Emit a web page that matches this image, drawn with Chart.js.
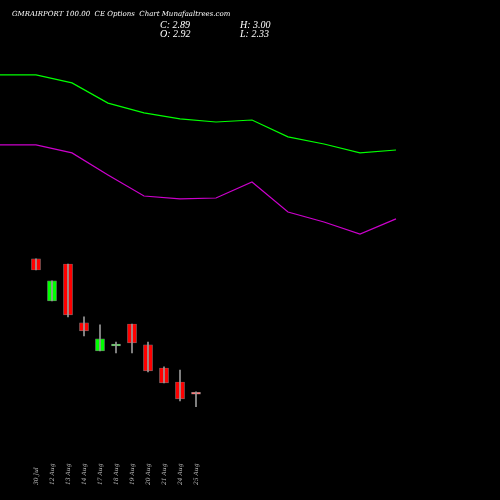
<!DOCTYPE html><html><head><style>html,body{margin:0;background:#000}#c{display:block}</style>
<script src="https://cdn.jsdelivr.net/npm/chart.js@4"></script></head><body>
<div style="width:500px;height:500px"><canvas id="c" width="500" height="500"></canvas></div>
<script>
const dates=["30 Jul","12 Aug","13 Aug","14 Aug","17 Aug","18 Aug","19 Aug","20 Aug","21 Aug","24 Aug","25 Aug"];
const opens=[8.98,7.09,8.75,6.10,4.84,5.06,6.05,5.11,4.07,3.44,2.92];
const closes=[8.48,7.99,6.46,5.74,5.38,5.08,5.20,3.94,3.40,2.68,2.89];
const highs=[8.98,7.99,8.75,6.37,6.01,5.24,6.05,5.24,4.12,3.98,3.00];
const lows=[8.48,7.09,6.37,5.51,4.84,4.75,4.75,3.89,3.40,2.59,2.33];
const lineX=[-2.25,0,2.25,4.5,6.75,9,11.25,13.5,15.75,18,20.25,22.5];
const upper=[17.26,17.26,16.90,15.99,15.55,15.28,15.14,15.23,14.47,14.15,13.75,13.88];
const lower=[14.11,14.11,13.75,12.76,11.81,11.68,11.72,12.44,11.09,10.64,10.10,10.78];
const colB=i=>closes[i]>=opens[i]?(Math.abs(closes[i]-opens[i])<0.05?'#66dd66':'#00ff00'):(Math.abs(closes[i]-opens[i])<0.05?'#ff7777':'#ff0000');
const labelsPlugin={id:'lbl',afterDraw(ch){const c=ch.ctx,xs=ch.scales.x;c.save();c.fillStyle='#fff';
c.font='italic 7px "DejaVu Serif"';c.fillText('GMRAIRPORT 100.00  CE Options  Chart Munafaaltrees.com',12,16);
c.font='italic 10px "Liberation Serif"';c.fillText('C: 2.89',160,28);c.fillText('O: 2.92',160,37);c.fillText('H: 3.00',240,28);c.fillText('L: 2.33',240,37);
c.fillStyle='#bbb';c.font='italic 6px "DejaVu Serif"';
dates.forEach((d,i)=>{c.save();c.translate(xs.getPixelForValue(i)+2,485);c.rotate(-Math.PI/2);c.fillText(d,0,0);c.restore();});
c.restore();}};
new Chart(document.getElementById('c'),{
data:{datasets:[
{type:'line',data:lineX.map((x,i)=>({x,y:upper[i]})),borderColor:'#00ff00',borderWidth:1.2,pointRadius:0,tension:0},
{type:'line',data:lineX.map((x,i)=>({x,y:lower[i]})),borderColor:'#cc00cc',borderWidth:1.2,pointRadius:0,tension:0},
{type:'bar',grouped:false,data:dates.map((d,i)=>({x:i,y:[lows[i],highs[i]]})),backgroundColor:'#999',barThickness:1},
{type:'bar',grouped:false,data:dates.map((d,i)=>({x:i,y:[Math.min(opens[i],closes[i]),Math.max(opens[i],closes[i])]})),backgroundColor:dates.map((d,i)=>colB(i)),borderColor:'#777',borderWidth:0.6,borderSkipped:false,barThickness:9,minBarLength:2}
]},
options:{responsive:false,animation:false,layout:{padding:0},plugins:{legend:{display:false},tooltip:{enabled:false}},
scales:{x:{type:'linear',offset:false,min:-2.25,max:29,display:false},y:{min:-1.87,max:20.63,display:false}}},
plugins:[labelsPlugin]});
</script></body></html>
